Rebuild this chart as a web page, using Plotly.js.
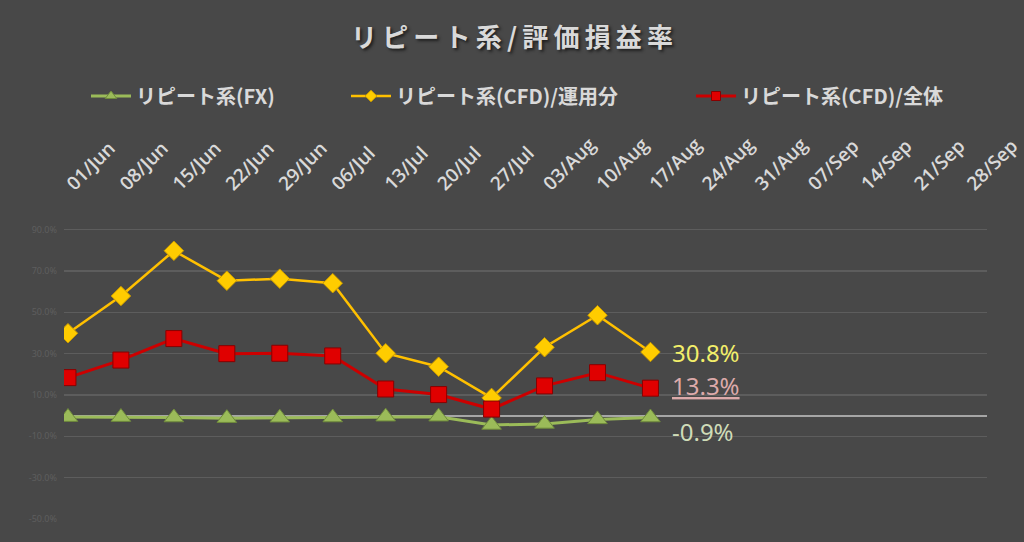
<!DOCTYPE html>
<html>
<head>
<meta charset="utf-8">
<script src="https://cdn.plot.ly/plotly-3.0.1.min.js"></script>
<style>
html,body{margin:0;padding:0;background:#484848;}
#chart{width:1024px;height:542px;}
</style>
</head>
<body>
<div id="chart"></div>
<script>
const chartTitle = 'リピート系/評価損益率';
const dates = ['01/Jun','08/Jun','15/Jun','22/Jun','29/Jun','06/Jul','13/Jul','20/Jul','27/Jul','03/Aug','10/Aug','17/Aug','24/Aug','31/Aug','07/Sep','14/Sep','21/Sep','28/Sep'];
const seriesNames = ['リピート系(FX)','リピート系(CFD)/運用分','リピート系(CFD)/全体'];
const fx     = [-0.7,-0.7,-0.9,-1.2,-1.0,-0.9,-0.5,-0.5,-4.5,-4.0,-1.8,-0.9];
const cfdOp  = [39.9,57.9,79.8,65.3,66.3,64.1,30.2,23.7,8.6,33.1,48.6,30.8];
const cfdAll = [18.4,26.9,37.3,30.0,30.2,28.9,12.9,10.2,3.2,14.4,20.8,13.3];
const yTicks = [-50,-30,-10,10,30,50,70,90];

const xs = dates.slice(0, fx.length);
const jpFont = '"Noto Sans CJK JP", "Noto Sans", sans-serif';
function fmt(v){ return v.toFixed(1) + '%'; }

const styles = [
  {line:{color:'#9bbb59', width:3}, sym:'triangle-up', mc:'#9bbb59', ml:'#6f8a3c', size:17, lsize:10},
  {line:{color:'#ffc000', width:2.5}, sym:'diamond', mc:'#ffcc00', ml:'#c99a00', size:15, lsize:9},
  {line:{color:'#cc0000', width:3}, sym:'square', mc:'#e00000', ml:'#880000', size:16, lsize:9}
];
const values = [fx, cfdOp, cfdAll];
const legendIds = ['legend','legend2','legend3'];

const traces = [];
values.forEach((v, i) => {
  const s = styles[i];
  traces.push({x: xs, y: v, name: seriesNames[i], type:'scatter', mode:'lines+markers', showlegend:false,
    line:s.line, marker:{symbol:s.sym, size:s.size, color:s.mc, line:{color:s.ml, width:1}}});
});
values.forEach((v, i) => {
  const s = styles[i];
  traces.push({x:[null], y:[null], name: seriesNames[i], type:'scatter', mode:'lines+markers', legend:legendIds[i],
    showlegend:true, hoverinfo:'skip',
    line:s.line, marker:{symbol:s.sym, size:s.lsize, color:s.mc, line:{color:s.ml, width:1}}});
});

const last = fx.length - 1;

const legendBase = {orientation:'h', xref:'container', yref:'container', xanchor:'left', yanchor:'middle',
  itemwidth:40, bgcolor:'rgba(0,0,0,0)', font:{family:jpFont, size:20, color:'#d9d9d9', weight:'bold'}};

const annFont = '"Liberation Sans Narrow", "Noto Sans", sans-serif';

const layout = {
  width:1024, height:542,
  paper_bgcolor:'#484848', plot_bgcolor:'#484848',
  margin:{l:64, r:37, t:209, b:23},
  title:{text: chartTitle.split('').join('\u2009'), x:0.5, xref:'container', y:1-38/542, yref:'container', yanchor:'middle',
    font:{family:jpFont, size:26, color:'#d9d9d9', weight:'bold', shadow:'2px 2px 3px #1e1e1e'}},
  showlegend:true,
  legend: Object.assign({}, legendBase, {x:86/1024, y:1-96/542}),
  legend2: Object.assign({}, legendBase, {x:346/1024, y:1-96/542}),
  legend3: Object.assign({}, legendBase, {x:691/1024, y:1-96/542}),
  xaxis:{type:'category', categoryorder:'array', categoryarray:dates, side:'top',
    range:[-0.075, 17.356], tickmode:'array', tickvals:dates, ticktext:dates,
    tickangle:-45, showgrid:false, zeroline:false, showline:false, ticks:'', ticklabelstandoff:10,
    tickfont:{family:'"Open Sans", "Noto Sans", sans-serif', size:19, color:'#d9d9d9', weight:600}},
  yaxis:{range:[-50,100], tickmode:'array', tickvals:yTicks, ticktext:yTicks.map(fmt),
    showgrid:true, gridcolor:'#5d5d5d', gridwidth:1.5, zeroline:true, zerolinecolor:'#a6a6a6', zerolinewidth:2,
    showline:false, ticks:'', ticklabelstandoff:6,
    tickfont:{family:'"Noto Sans", sans-serif', size:9, color:'#5e5e5e'}},
  annotations:[
    {x: xs[last], y: cfdOp[last], xref:'x', yref:'y', text: fmt(cfdOp[last]), showarrow:false,
     xanchor:'left', yanchor:'middle', xshift:20, yshift:0,
     font:{family:annFont, size:24, color:'#f2ee6a'}},
    {x: xs[last], y: cfdAll[last], xref:'x', yref:'y', text: fmt(cfdAll[last]), showarrow:false,
     xanchor:'left', yanchor:'middle', xshift:20, yshift:3,
     font:{family:annFont, size:24, color:'#dcaaaa', lineposition:'under'}},
    {x: xs[last], y: fx[last], xref:'x', yref:'y', text: fmt(fx[last]), showarrow:false,
     xanchor:'left', yanchor:'middle', xshift:20, yshift:-14,
     font:{family:annFont, size:24, color:'#cfdcb8'}}
  ]
};

Plotly.newPlot('chart', traces, layout, {displayModeBar:false, staticPlot:true});
</script>
</body>
</html>
